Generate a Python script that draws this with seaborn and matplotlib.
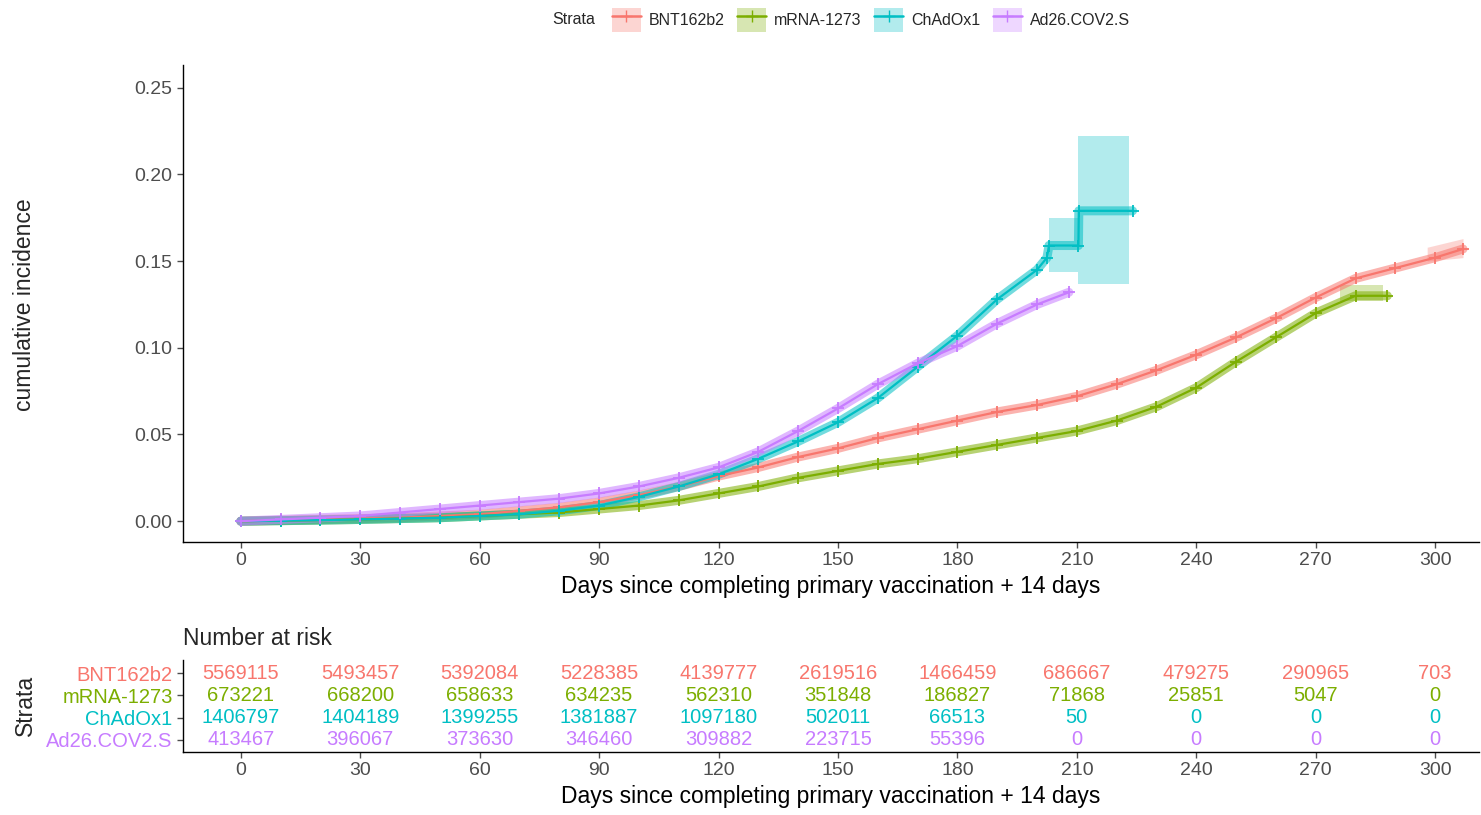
import numpy as np
import pandas as pd
import matplotlib.pyplot as plt
import seaborn as sns
from matplotlib.lines import Line2D
from matplotlib.patches import Patch

# strata and ggplot-like hue colours
strata = ["BNT162b2", "mRNA-1273", "ChAdOx1", "Ad26.COV2.S"]
colors = ["#F8766D", "#7CAE00", "#00BFC4", "#C77CFF"]

# cumulative incidence
bnt_days = [0, 10, 20, 30, 40, 50, 60, 70, 80, 90, 100, 110, 120, 130, 140, 150, 160,
            170, 180, 190, 200, 210, 220, 230, 240, 250, 260, 270, 280, 290, 300, 307]
bnt_inc = [0.000, 0.0005, 0.001, 0.0015, 0.002, 0.003, 0.004, 0.006, 0.008, 0.011, 0.015,
           0.020, 0.026, 0.031, 0.037, 0.042, 0.048, 0.053, 0.058, 0.063, 0.067, 0.072,
           0.079, 0.087, 0.096, 0.106, 0.117, 0.129, 0.140, 0.146, 0.152, 0.157]

mrna_days = [0, 10, 20, 30, 40, 50, 60, 70, 80, 90, 100, 110, 120, 130, 140, 150, 160,
             170, 180, 190, 200, 210, 220, 230, 240, 250, 260, 270, 280, 288]
mrna_inc = [0.000, 0.0003, 0.0006, 0.001, 0.0015, 0.002, 0.003, 0.004, 0.005, 0.007, 0.009,
            0.012, 0.016, 0.020, 0.025, 0.029, 0.033, 0.036, 0.040, 0.044, 0.048, 0.052,
            0.058, 0.066, 0.077, 0.092, 0.106, 0.120, 0.130, 0.130]

chad_days = [0, 10, 20, 30, 40, 50, 60, 70, 80, 90, 100, 110, 120, 130, 140, 150, 160,
             170, 180, 190, 200, 202.5, 203, 210.4, 210.5, 224]
chad_inc = [0.000, 0.0003, 0.0006, 0.001, 0.0015, 0.002, 0.003, 0.004, 0.006, 0.009, 0.014,
            0.020, 0.027, 0.036, 0.046, 0.057, 0.071, 0.089, 0.107, 0.128, 0.145, 0.152,
            0.159, 0.159, 0.179, 0.179]

ad26_days = [0, 10, 20, 30, 40, 50, 60, 70, 80, 90, 100, 110, 120, 130, 140, 150, 160,
             170, 180, 190, 200, 208]
ad26_inc = [0.000, 0.001, 0.002, 0.003, 0.005, 0.007, 0.009, 0.011, 0.013, 0.016, 0.020,
            0.025, 0.031, 0.040, 0.052, 0.065, 0.079, 0.091, 0.101, 0.114, 0.125, 0.132]

# visible confidence bands (tails only)
chad_ci_days = [203, 210.4, 210.4, 223]
chad_ci_low = [0.144, 0.144, 0.137, 0.137]
chad_ci_high = [0.175, 0.175, 0.222, 0.222]
mrna_ci_days = [276, 287]
mrna_ci_low = [0.127, 0.127]
mrna_ci_high = [0.136, 0.136]
bnt_ci_days = [298, 307]
bnt_ci_low = [0.150, 0.152]
bnt_ci_high = [0.158, 0.163]

# number at risk table
risk_days = [0, 30, 60, 90, 120, 150, 180, 210, 240, 270, 300]
risk_bnt = [5569115, 5493457, 5392084, 5228385, 4139777, 2619516, 1466459, 686667, 479275, 290965, 703]
risk_mrna = [673221, 668200, 658633, 634235, 562310, 351848, 186827, 71868, 25851, 5047, 0]
risk_chad = [1406797, 1404189, 1399255, 1381887, 1097180, 502011, 66513, 50, 0, 0, 0]
risk_ad26 = [413467, 396067, 373630, 346460, 309882, 223715, 55396, 0, 0, 0, 0]

curves = pd.concat([
    pd.DataFrame({"day": bnt_days, "inc": bnt_inc, "strata": strata[0]}),
    pd.DataFrame({"day": mrna_days, "inc": mrna_inc, "strata": strata[1]}),
    pd.DataFrame({"day": chad_days, "inc": chad_inc, "strata": strata[2]}),
    pd.DataFrame({"day": ad26_days, "inc": ad26_inc, "strata": strata[3]}),
], ignore_index=True)

sns.set_theme(style="ticks")
plt.rcParams["font.family"] = ["Liberation Sans", "DejaVu Sans"]
tick_col = "#4D4D4D"

fig = plt.figure(figsize=(14.81, 8.15), dpi=100)
ax = fig.add_axes([0.1236, 0.335, 0.875, 0.585])

# confidence bands
ax.fill_between(chad_ci_days, chad_ci_low, chad_ci_high, color=colors[2], alpha=0.3, lw=0)
ax.fill_between(mrna_ci_days, mrna_ci_low, mrna_ci_high, color=colors[1], alpha=0.3, lw=0)
ax.fill_between(bnt_ci_days, bnt_ci_low, bnt_ci_high, color=colors[0], alpha=0.3, lw=0)

# fuzzy band of censor marks, then the curve itself
sns.lineplot(data=curves, x="day", y="inc", hue="strata", hue_order=strata, palette=colors,
             estimator=None, sort=False, lw=6.5, alpha=0.55, legend=False, ax=ax)
sns.lineplot(data=curves, x="day", y="inc", hue="strata", hue_order=strata, palette=colors,
             estimator=None, sort=False, lw=1.6, marker="+", markersize=9, mew=1.3,
             legend=False, ax=ax)
for ln in ax.lines:
    ln.set_markeredgecolor(ln.get_color())

ax.set_xlim(-14.5, 311)
ax.set_ylim(-0.012, 0.263)
ax.set_xticks(risk_days)
ax.set_yticks([0, 0.05, 0.10, 0.15, 0.20, 0.25])
ax.set_yticklabels(["0.00", "0.05", "0.10", "0.15", "0.20", "0.25"])
ax.tick_params(labelsize=14, colors=tick_col, labelcolor=tick_col, length=4, width=1)
ax.set_xlabel("Days since completing primary vaccination + 14 days", fontsize=16.5, color="black")
ax.set_ylabel("")
sns.despine(ax=ax)
for s in ["left", "bottom"]:
    ax.spines[s].set_color("black")
    ax.spines[s].set_linewidth(1)
fig.text(25 / 1481, 1 - 305 / 815, "cumulative incidence", rotation=90,
         ha="center", va="center", fontsize=16.5)

# legend on top
handles = [(Patch(facecolor=c, alpha=0.3, edgecolor="none"),
            Line2D([], [], color=c, marker="+", markersize=9, lw=1.8)) for c in colors]
fig.legend(handles, strata, loc="center", bbox_to_anchor=(0.588, 1 - 20 / 815), ncol=4,
           frameon=False, fontsize=11.5, handlelength=1.8, handleheight=2.0,
           columnspacing=0.8, handletextpad=0.5)
fig.text(552 / 1481, 1 - 20 / 815, "Strata", ha="left", va="center", fontsize=11.5)

# number at risk table
rax = fig.add_axes([0.1236, 0.0773, 0.875, 0.1127])
risk_rows = [risk_bnt, risk_mrna, risk_chad, risk_ad26]
for i, (row, c) in enumerate(zip(risk_rows, colors)):
    for d, n in zip(risk_days, row):
        rax.text(d, 4 - i, str(n), color=c, ha="center", va="center", fontsize=14.5)
rax.set_xlim(-14.5, 311)
rax.set_ylim(0.46, 4.58)
rax.set_xticks(risk_days)
rax.set_yticks([4, 3, 2, 1])
rax.set_yticklabels(strata)
rax.tick_params(axis="x", labelsize=14, colors=tick_col, labelcolor=tick_col, length=4, width=1)
rax.tick_params(axis="y", labelsize=14.5, colors=tick_col, length=4, width=1)
for lab, c in zip(rax.get_yticklabels(), colors):
    lab.set_color(c)
rax.set_xlabel("Days since completing primary vaccination + 14 days", fontsize=16.5, color="black")
rax.set_title("Number at risk", loc="left", fontsize=16.5, pad=11)
sns.despine(ax=rax)
for s in ["left", "bottom"]:
    rax.spines[s].set_color("black")
    rax.spines[s].set_linewidth(1)
fig.text(25 / 1481, 1 - 705 / 815, "Strata", rotation=90, ha="center", va="center", fontsize=16.5)

fig.savefig("out.png", dpi=100)
